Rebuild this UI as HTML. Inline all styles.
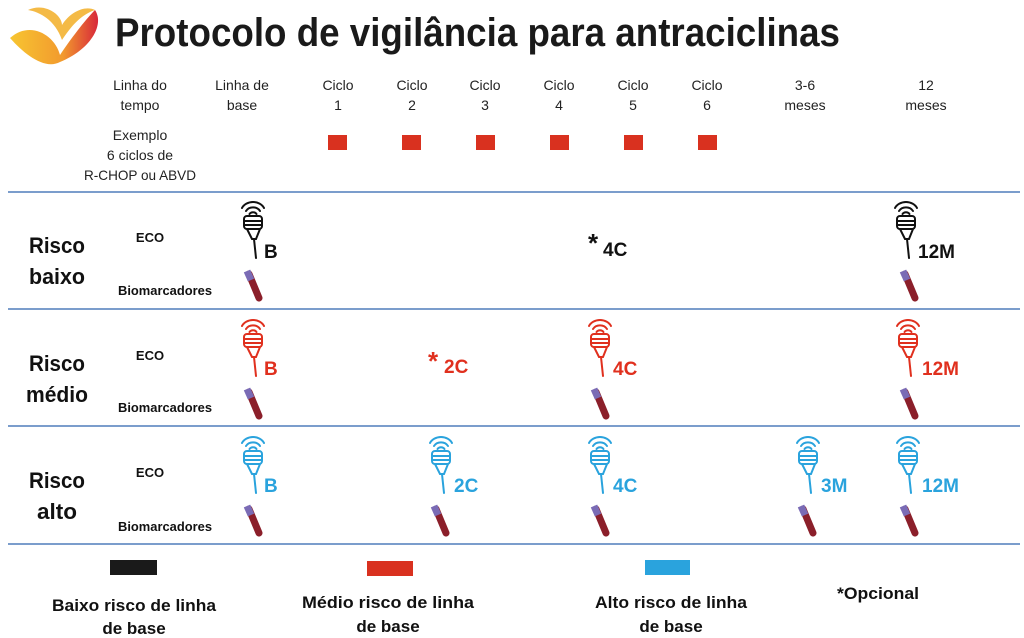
<!DOCTYPE html>
<html><head><meta charset="utf-8"><style>
html,body{margin:0;padding:0;background:#fff}
svg{display:block}
text{font-family:"Liberation Sans",sans-serif}
</style></head><body>
<svg width="1024" height="638" viewBox="0 0 1024 638" xmlns="http://www.w3.org/2000/svg">
<defs>
<linearGradient id="lg" x1="0" y1="0" x2="1" y2="0">
<stop offset="0" stop-color="#f7c531"/><stop offset="0.6" stop-color="#f29a2e"/><stop offset="1" stop-color="#d8283a"/>
</linearGradient>
<g id="probe" fill="none" stroke-width="2" stroke-linecap="round">
<path d="M2 8 A12 10 0 0 1 24 8"/>
<path d="M6 11 A8 7 0 0 1 20 11"/>
<path d="M9.5 14 A4 3.5 0 0 1 16.5 14"/>
<rect x="4" y="16" width="18" height="13" rx="3"/>
<line x1="5" y1="21" x2="21" y2="21"/><line x1="5" y1="25" x2="21" y2="25"/>
<path d="M7 29 L12 39 L16 39 L20 29"/>
<line x1="14" y1="39" x2="16" y2="58"/>
</g>
<g id="tube">
<path d="M2 6 L12 30" stroke="#8b1f2a" stroke-width="7" stroke-linecap="round"/>
<path d="M0 3 L4 12" stroke="#7a6bb5" stroke-width="7"/>
</g>
</defs>
<path d="M10 38 C30 20 55 35 60 55 C70 40 85 20 95 10 C105 25 90 50 60 62 C45 70 25 55 10 38 Z" fill="url(#lg)"/>
<path d="M28 10 C45 2 62 15 62 25 C70 12 85 5 95 10 C80 15 70 28 62 40 C55 20 40 12 28 10 Z" fill="#f3b332" opacity="0.9"/>
<text x="115" y="46" font-size="40" font-weight="bold" fill="#1a1a1a" textLength="725" lengthAdjust="spacingAndGlyphs">Protocolo de vigilância para antraciclinas</text>
<g font-size="14" fill="#222" text-anchor="middle">
<text x="140" y="90">Linha do</text><text x="140" y="110">tempo</text>
<text x="242" y="90">Linha de</text><text x="242" y="110">base</text>
<text x="338" y="90">Ciclo</text><text x="338" y="110">1</text>
<text x="412" y="90">Ciclo</text><text x="412" y="110">2</text>
<text x="485" y="90">Ciclo</text><text x="485" y="110">3</text>
<text x="559" y="90">Ciclo</text><text x="559" y="110">4</text>
<text x="633" y="90">Ciclo</text><text x="633" y="110">5</text>
<text x="707" y="90">Ciclo</text><text x="707" y="110">6</text>
<text x="805" y="90">3-6</text><text x="805" y="110">meses</text>
<text x="926" y="90">12</text><text x="926" y="110">meses</text>
<text x="140" y="140">Exemplo</text><text x="140" y="160">6 ciclos de</text><text x="140" y="180" textLength="112" lengthAdjust="spacingAndGlyphs">R-CHOP ou ABVD</text>
</g>
<g fill="#d9311f">
<rect x="328" y="135" width="19" height="15"/><rect x="402" y="135" width="19" height="15"/>
<rect x="476" y="135" width="19" height="15"/><rect x="550" y="135" width="19" height="15"/>
<rect x="624" y="135" width="19" height="15"/><rect x="698" y="135" width="19" height="15"/>
</g>
<g stroke="#7b9dcc" stroke-width="2">
<line x1="8" y1="192" x2="1020" y2="192"/><line x1="8" y1="309" x2="1020" y2="309"/>
<line x1="8" y1="426" x2="1020" y2="426"/><line x1="8" y1="544" x2="1020" y2="544"/>
</g>
<g font-weight="bold" fill="#111">
<g font-size="22" text-anchor="middle">
<text x="57" y="253" textLength="56" lengthAdjust="spacingAndGlyphs">Risco</text><text x="57" y="284" textLength="56" lengthAdjust="spacingAndGlyphs">baixo</text>
<text x="57" y="371" textLength="56" lengthAdjust="spacingAndGlyphs">Risco</text><text x="57" y="402" textLength="62" lengthAdjust="spacingAndGlyphs">médio</text>
<text x="57" y="488" textLength="56" lengthAdjust="spacingAndGlyphs">Risco</text><text x="57" y="519" textLength="40" lengthAdjust="spacingAndGlyphs">alto</text>
</g>
<g font-size="13" text-anchor="middle">
<text x="150" y="242">ECO</text><text x="165" y="295" textLength="94" lengthAdjust="spacingAndGlyphs">Biomarcadores</text>
<text x="150" y="360">ECO</text><text x="165" y="412" textLength="94" lengthAdjust="spacingAndGlyphs">Biomarcadores</text>
<text x="150" y="477">ECO</text><text x="165" y="531" textLength="94" lengthAdjust="spacingAndGlyphs">Biomarcadores</text>
</g>
</g>
<g stroke="#111"><use href="#probe" x="240" y="200"/><use href="#probe" x="893" y="200"/></g>
<g font-size="19" font-weight="bold" fill="#111">
<text x="264" y="258">B</text><text x="918" y="258">12M</text>
<text x="588" y="252" font-size="26">*</text><text x="603" y="256">4C</text>
</g>
<g stroke="#e0301e"><use href="#probe" x="240" y="318"/><use href="#probe" x="587" y="318"/><use href="#probe" x="895" y="318"/></g>
<g font-size="19" font-weight="bold" fill="#e0301e">
<text x="264" y="375">B</text><text x="613" y="375">4C</text><text x="922" y="375">12M</text>
<text x="428" y="370" font-size="26">*</text><text x="444" y="373">2C</text>
</g>
<g stroke="#2aa3dd"><use href="#probe" x="240" y="435"/><use href="#probe" x="428" y="435"/><use href="#probe" x="587" y="435"/><use href="#probe" x="795" y="435"/><use href="#probe" x="895" y="435"/></g>
<g font-size="19" font-weight="bold" fill="#2aa3dd">
<text x="264" y="492">B</text><text x="454" y="492">2C</text><text x="613" y="492">4C</text><text x="821" y="492">3M</text><text x="922" y="492">12M</text>
</g>
<use href="#tube" x="247" y="268"/><use href="#tube" x="903" y="268"/>
<use href="#tube" x="247" y="386"/><use href="#tube" x="594" y="386"/><use href="#tube" x="903" y="386"/>
<use href="#tube" x="247" y="503"/><use href="#tube" x="434" y="503"/><use href="#tube" x="594" y="503"/><use href="#tube" x="801" y="503"/><use href="#tube" x="903" y="503"/>
<rect x="110" y="560" width="47" height="15" fill="#1a1a1a"/>
<rect x="367" y="561" width="46" height="15" fill="#d9311f"/>
<rect x="645" y="560" width="45" height="15" fill="#2aa3dd"/>
<g font-size="17" font-weight="bold" fill="#111" text-anchor="middle">
<text x="134" y="611" textLength="164" lengthAdjust="spacingAndGlyphs">Baixo risco de linha</text><text x="134" y="634">de base</text>
<text x="388" y="608" textLength="172" lengthAdjust="spacingAndGlyphs">Médio risco de linha</text><text x="388" y="632">de base</text>
<text x="671" y="608" textLength="152" lengthAdjust="spacingAndGlyphs">Alto risco de linha</text><text x="671" y="632">de base</text>
<text x="878" y="599" textLength="82" lengthAdjust="spacingAndGlyphs">*Opcional</text>
</g>
</svg>
</body></html>
